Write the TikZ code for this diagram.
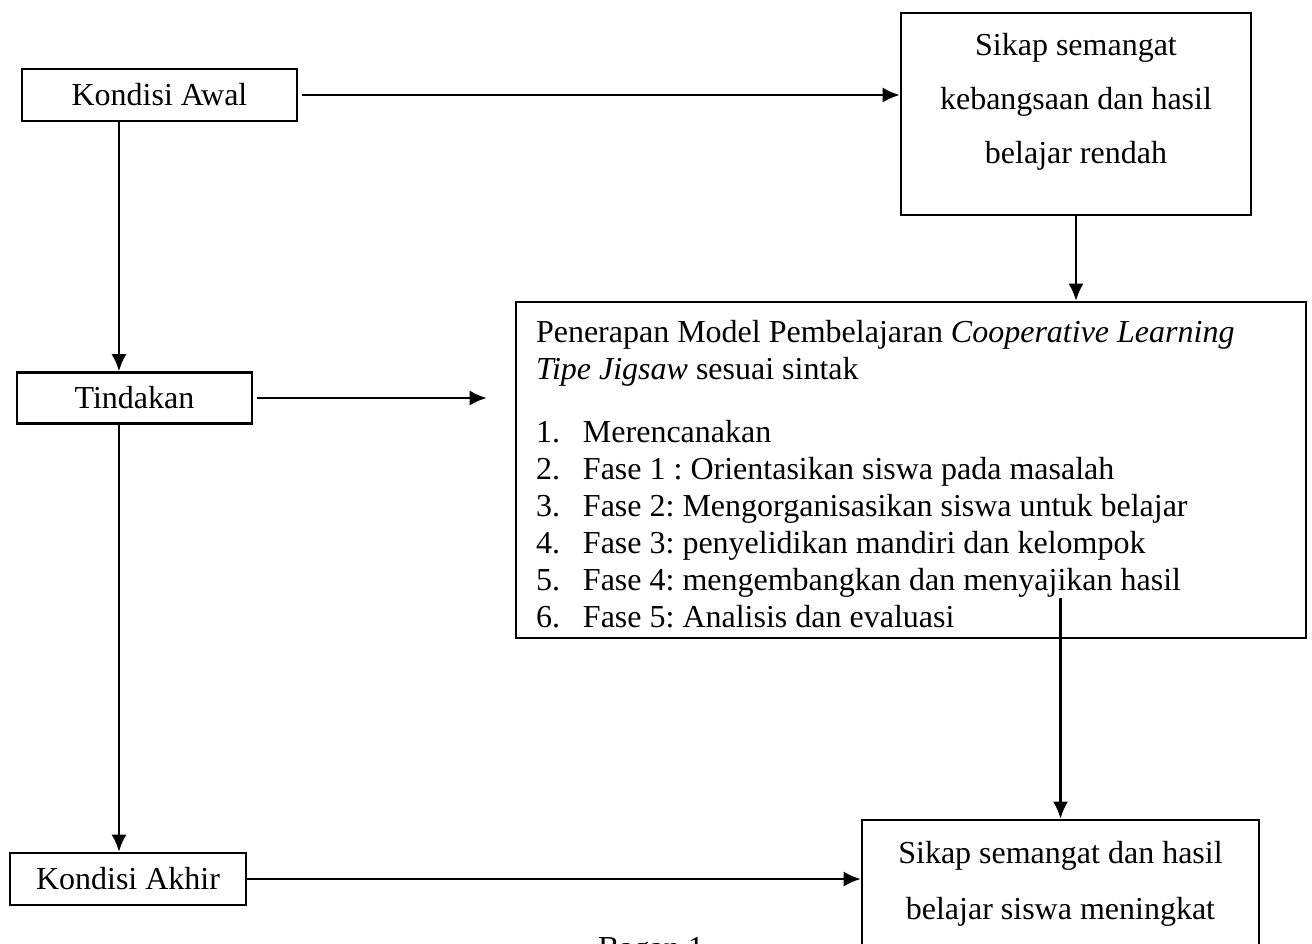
\documentclass[tikz,border=0pt]{standalone}
\usepackage{fontspec}
\setmainfont{Liberation Serif}
\usetikzlibrary{arrows.meta}

\newcommand{\langkah}[2]{\makebox[47pt][l]{#1}#2}

\tikzset{
  kotak/.style={draw, line width=2.6pt, inner sep=0pt}
}

\begin{document}
\frenchspacing
\begin{tikzpicture}[x=1pt,y=-1pt,>={Latex[length=17pt,width=15pt]},line width=2.2pt,font=\fontsize{32}{37}\selectfont]
\useasboundingbox (0,0) rectangle (1312,944);
\node[kotak,minimum width=275pt,minimum height=52pt] (awal) at (159.5,95) {Kondisi Awal};
\node[kotak,minimum width=235pt,minimum height=51pt] (tindakan) at (134.5,398) {Tindakan};
\node[kotak,minimum width=236pt,minimum height=52pt] (akhir) at (128,879) {Kondisi Akhir};
\node[kotak] (sikap) at (1076,114) {\parbox[c][202pt][t]{350pt}{\centering\fontsize{32}{54}\selectfont
  \rule{0pt}{43pt}Sikap semangat\\ kebangsaan dan hasil\\ belajar rendah}};
\node[kotak] (penerapan) at (911,470) {\parbox[c][336pt][t]{790pt}{\raggedright\leftskip=20pt\fontsize{32}{37}\selectfont
  \rule{0pt}{40pt}Penerapan Model Pembelajaran \textit{Cooperative Learning}\\
  \textit{Tipe Jigsaw} sesuai sintak\\[26pt]
  \langkah{1.}{Merencanakan}\\
  \langkah{2.}{Fase 1 : Orientasikan siswa pada masalah}\\
  \langkah{3.}{Fase 2: Mengorganisasikan siswa untuk belajar}\\
  \langkah{4.}{Fase 3: penyelidikan mandiri dan kelompok}\\
  \langkah{5.}{Fase 4: mengembangkan dan menyajikan hasil}\\
  \langkah{6.}{Fase 5: Analisis dan evaluasi}}};
\node[kotak] (hasil) at (1060.5,920) {\parbox[c][200pt][t]{397pt}{\centering\fontsize{32}{56}\selectfont
  \rule{0pt}{43pt}Sikap semangat dan hasil\\ belajar siswa meningkat}};
\node[anchor=base] (bagan) at (651,958) {Bagan 1};

\coordinate (kiri) at (119,0);
\draw[->] ([xshift=4pt]awal.east) -- (awal.east -| sikap.west);
\draw[->] (sikap.south) -- (sikap.south |- penerapan.north);
\draw[->] (awal.south -| kiri) -- (tindakan.north -| kiri);
\draw[->] ([xshift=4pt]tindakan.east) -- ([xshift=-28pt]tindakan.east -| penerapan.west);
\draw[->] (tindakan.south -| kiri) -- (akhir.north -| kiri);
\draw[->] ([yshift=41pt]penerapan.south -| hasil.north) -- (hasil.north);
\draw[->] (akhir.east) -- (akhir.east -| hasil.west);
\end{tikzpicture}
\end{document}
